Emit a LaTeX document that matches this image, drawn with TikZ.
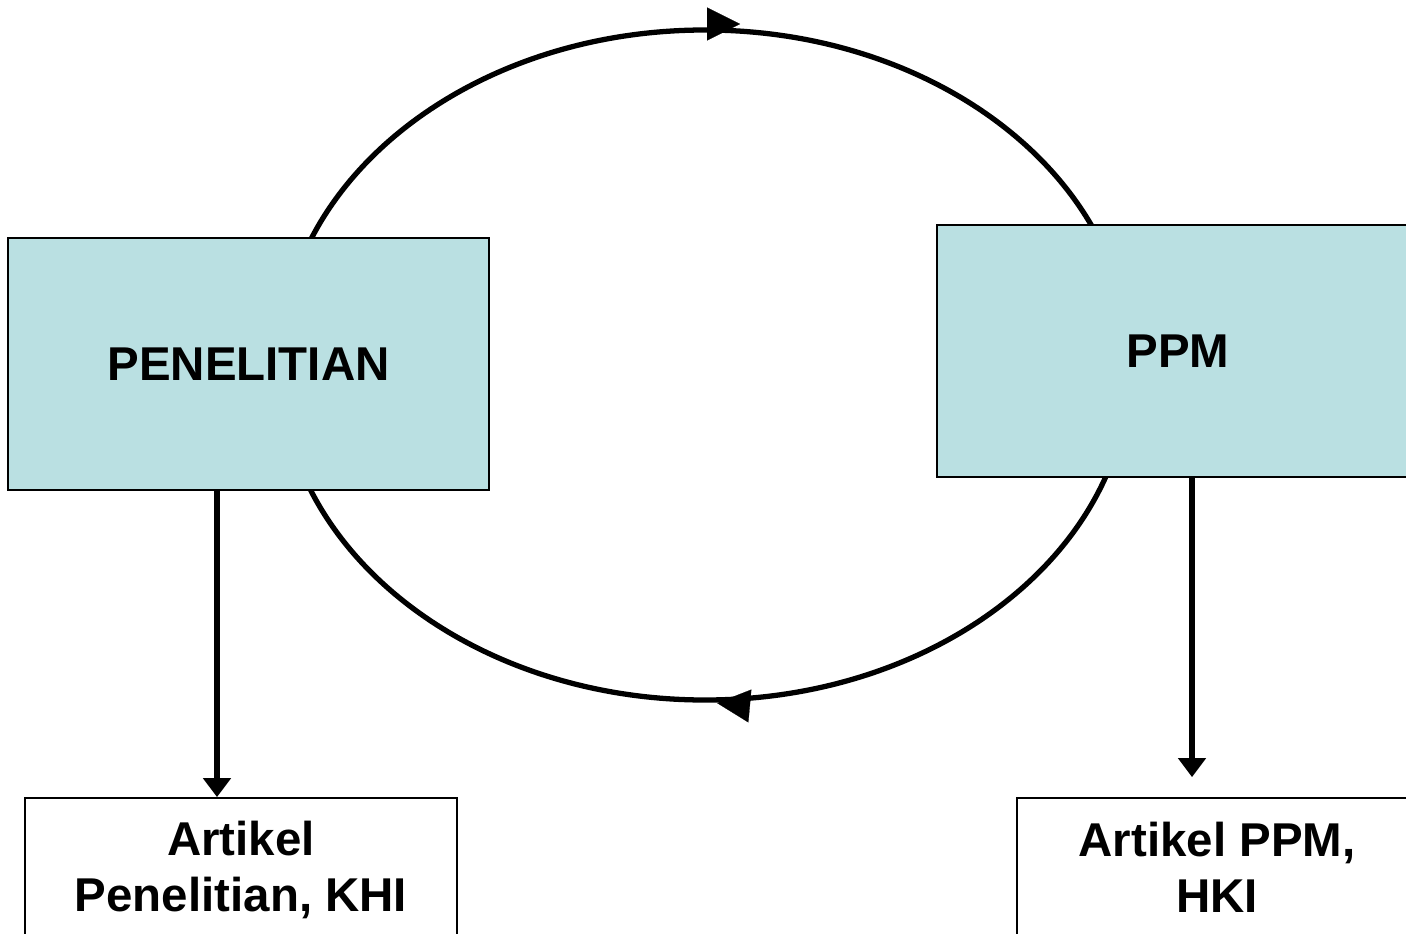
\documentclass[tikz,border=0pt]{standalone}
\usepackage{fontspec}
\setmainfont{Liberation Sans}
\usepackage{tikz}
\usetikzlibrary{arrows.meta}
\usetikzlibrary{positioning}
\definecolor{biru}{RGB}{186,224,226}
\tikzstyle{kotak}=[
        draw,
        rectangle,
        line width=1pt,
        fill=biru,
        minimum width=9.62cm,
        minimum height=5.04cm,
        font=\fontsize{27}{32}\selectfont\bfseries
]
\tikzstyle{hasil}=[
        draw,
        rectangle,
        line width=1pt,
        fill=white,
        align=center,
        minimum height=2.76cm,
        font=\fontsize{27}{32}\selectfont\bfseries
]
\tikzstyle{lingkar}=[line width=3pt]
\tikzstyle{suite}=[-{Triangle[length=0.38cm,width=0.54cm]},line width=3.4pt]
\tikzstyle{ujung}=[-{Triangle[length=0.66cm,width=0.66cm]},line width=0.1pt]

\begin{document}
\begin{tikzpicture}
\useasboundingbox (0,0) rectangle (28.12,-18.68);
%siklus
\draw[lingkar] (14.1,-7.3) ellipse [x radius=8.5cm, y radius=6.7cm];
\draw[ujung] (14.14,-0.48) -- (14.80,-0.48);
\draw[ujung] (15.00,-14.12) -- (14.34,-14.06);
%kotak
\node[kotak] (pen) at (4.97,-7.28) {PENELITIAN};
\node[kotak,minimum width=9.64cm] (ppm) at (23.56,-7.02) {PPM};
\node[hasil,minimum width=8.64cm,minimum height=2.88cm] (artpen) at (4.82,-17.40) {Artikel\\Penelitian, KHI};
\node[hasil,minimum width=8.0cm] (artppm) at (24.34,-17.34) {Artikel PPM,\\HKI};
%panah
\coordinate (lx) at (4.34,0);
\coordinate (rx) at (23.84,0);
\draw[suite] (pen.south -| lx) -- (artpen.north -| lx);
\draw[suite,shorten >=0.4cm] (ppm.south -| rx) -- (artppm.north -| rx);
\end{tikzpicture}
\end{document}
